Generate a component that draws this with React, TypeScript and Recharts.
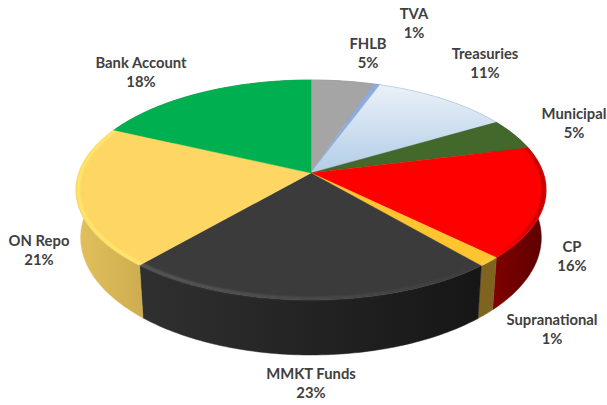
import { PieChart, Pie } from "recharts";

const names = ["FHLB", "TVA", "Treasuries", "Municipal", "CP", "Supranational", "MMKT Funds", "ON Repo", "Bank Account"];
const values = [5.0, 0.5, 11.0, 4.6, 16.3, 1.4, 22.5, 20.7, 18.0];
const percentLabels = ["5%", "1%", "11%", "5%", "16%", "1%", "23%", "21%", "18%"];

const topFrom = ["#a5a5a5", "#8faadc", "#eaf1f9", "#43682b", "#ff0000", "#fec52f", "#3b3b3b", "#fdd663", "#00b050"];
const topTo = ["#a5a5a5", "#8faadc", "#b2cde6", "#43682b", "#ff0000", "#fec52f", "#3b3b3b", "#fdd663", "#00b050"];
const wallFrom = ["#7c7c7c", "#6b80a5", "#8fa5bb", "#324e20", "#800000", "#7f6420", "#303030", "#e2c05c", "#00843c"];
const wallTo = ["#7c7c7c", "#6b80a5", "#8fa5bb", "#324e20", "#5c0000", "#7f6420", "#161616", "#cdad50", "#00843c"];
const rimColors = ["none", "none", "none", "none", "#8c0000", "#ffd75a", "#6a6a6a", "#fff070", "none"];
// rim strength at the left and right end of a slice
const rimLeft = [0, 0, 0, 0, 0, 0.4, 0.8, 0.8, 0];
const rimRight = [0, 0, 0, 0, 0.8, 0.4, 0.05, 0.8, 0];

// label centres, first line; second line sits below
const labelX = [368, 414, 485, 574, 572, 552, 311, 39, 141];
const labelY = [45, 15, 55, 115, 248, 321, 375, 242, 64];

const sliceTable = names.map((name, i) => ({
  name,
  value: values[i],
  percent: percentLabels[i],
  topFrom: topFrom[i],
  topTo: topTo[i],
  wallFrom: wallFrom[i],
  wallTo: wallTo[i],
  rim: rimColors[i],
  rimLeft: rimLeft[i],
  rimRight: rimRight[i],
  labelX: labelX[i],
  labelY: labelY[i],
}));

const CX = 311;
const CY = 173;
const RADIUS = 232.2;
const PERSPECTIVE = 0.1545;
const TILT = 80.64;
const DEPTH = 46.5;
const BOTTOM_SCALE = 0.98;

// tilted disk: unit circle through a homography, the apex is off the ellipse centre
function project(deg: number, r = 1) {
  const u = r * Math.cos((deg * Math.PI) / 180);
  const v = r * Math.sin((deg * Math.PI) / 180);
  const w = 1 + PERSPECTIVE * v;
  return { x: CX + (RADIUS * u) / w, y: (CY - TILT * v) / w, w };
}

function arcPoints(start: number, end: number, r = 1) {
  const steps = Math.max(2, Math.ceil(Math.abs(end - start)));
  const pts = [];
  for (let i = 0; i <= steps; i++) pts.push(project(start + ((end - start) * i) / steps, r));
  return pts;
}

const toPath = (pts: { x: number; y: number }[]) =>
  pts.map((p, i) => `${i ? "L" : "M"}${p.x.toFixed(2)},${p.y.toFixed(2)}`).join(" ");

function WallShape(props: any) {
  const { startAngle, endAngle, payload } = props;
  const id = `wall-${payload.name.replace(/\s/g, "")}`;
  const rim = arcPoints(startAngle, endAngle);
  const lower = rim
    .map((p) => ({ x: CX + (p.x - CX) * BOTTOM_SCALE, y: p.y + DEPTH / p.w }))
    .reverse();
  return (
    <g>
      <defs>
        <linearGradient id={id} x1="0" y1="0" x2="1" y2="0">
          <stop offset="0" stopColor={payload.wallFrom} />
          <stop offset="1" stopColor={payload.wallTo} />
        </linearGradient>
      </defs>
      <path d={`${toPath([...rim, ...lower])} Z`} fill={`url(#${id})`} stroke={`url(#${id})`} strokeWidth={0.5} />
    </g>
  );
}

function TopShape(props: any) {
  const { startAngle, endAngle, payload } = props;
  const id = `top-${payload.name.replace(/\s/g, "")}`;
  const apex = { x: CX, y: CY };
  const edge = arcPoints(startAngle, endAngle);
  return (
    <g>
      <defs>
        <linearGradient id={id} x1="0" y1="0" x2="0" y2="1">
          <stop offset="0" stopColor={payload.topFrom} />
          <stop offset="1" stopColor={payload.topTo} />
        </linearGradient>
        <linearGradient id={`${id}-rim`} x1="0" y1="0" x2="1" y2="0">
          <stop offset="0" stopColor={payload.rim} stopOpacity={payload.rimLeft} />
          <stop offset="1" stopColor={payload.rim} stopOpacity={payload.rimRight} />
        </linearGradient>
        <filter id={`${id}-soft`} x="-10%" y="-10%" width="120%" height="120%">
          <feGaussianBlur stdDeviation="1" />
        </filter>
      </defs>
      <path d={`${toPath([apex, ...edge])} Z`} fill={`url(#${id})`} stroke={payload.topTo} strokeWidth={0.4} />
      {payload.rim !== "none" && (
        <path
          d={toPath(arcPoints(startAngle, endAngle, 0.99))}
          fill="none"
          stroke={`url(#${id}-rim)`}
          strokeWidth={2.5}
          filter={`url(#${id}-soft)`}
        />
      )}
    </g>
  );
}

function SliceLabel(props: any) {
  const row = props.payload ?? props;
  const style = { fontFamily: "Lato", fontWeight: 700, fontSize: 14.8, fill: "#404040" };
  return (
    <text textAnchor="middle" style={style}>
      <tspan x={row.labelX} y={row.labelY} dominantBaseline="middle">{row.name}</tspan>
      <tspan x={row.labelX} y={row.labelY + 19.5} dominantBaseline="middle">{row.percent}</tspan>
    </text>
  );
}

export default function App() {
  return (
    <div style={{ position: "absolute", left: 0, top: 0, width: 607, height: 405, background: "#fff" }}>
      <PieChart width={607} height={405} margin={{ top: 0, right: 0, bottom: 0, left: 0 }}>
        <Pie
          data={sliceTable}
          dataKey="value"
          nameKey="name"
          cx={CX}
          cy={CY}
          outerRadius={RADIUS}
          startAngle={90}
          endAngle={-270}
          stroke="none"
          shape={WallShape}
          isAnimationActive={false}
        />
        <Pie
          data={sliceTable}
          dataKey="value"
          nameKey="name"
          cx={CX}
          cy={CY}
          outerRadius={RADIUS}
          startAngle={90}
          endAngle={-270}
          stroke="none"
          shape={TopShape}
          label={SliceLabel}
          labelLine={false}
          isAnimationActive={false}
        />
      </PieChart>
    </div>
  );
}
